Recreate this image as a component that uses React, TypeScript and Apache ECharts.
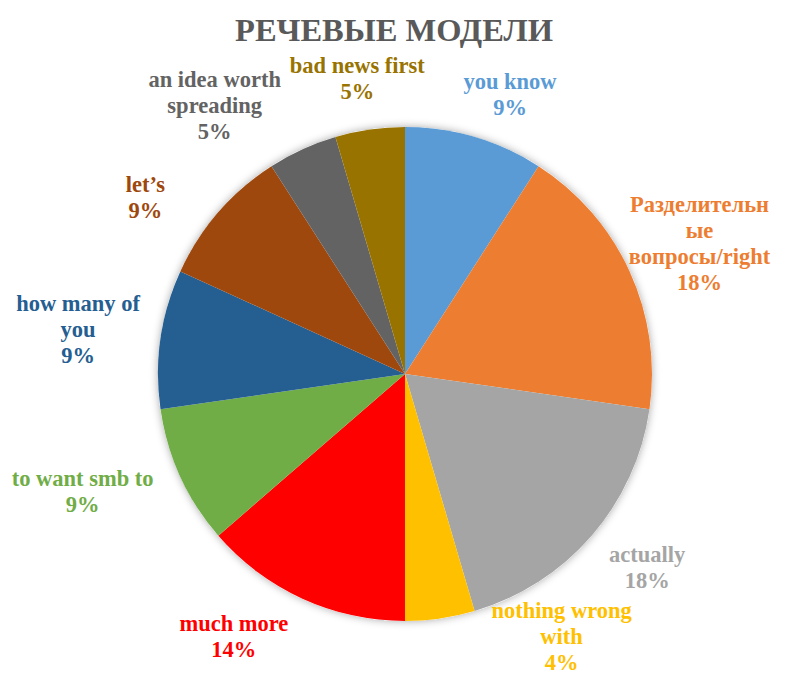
import React, { useEffect, useRef } from "react";
import * as echarts from "echarts";

const titleText = "РЕЧЕВЫЕ МОДЕЛИ";
const categories = [
  "you know",
  "Разделительн\nые\nвопросы/right",
  "actually",
  "nothing wrong\nwith",
  "much more",
  "to want smb to",
  "how many of\nyou",
  "let’s",
  "an idea worth\nspreading",
  "bad news first",
];
const counts = [2, 4, 4, 1, 3, 2, 2, 2, 1, 1];
const percentLabels = ["9%", "18%", "18%", "4%", "14%", "9%", "9%", "9%", "5%", "5%"];
const colors = [
  "#5B9BD5", "#ED7D31", "#A5A5A5", "#FFC000", "#FF0000",
  "#70AD47", "#255E91", "#9E480E", "#636363", "#997300",
];
// label placement (style): angular shift from slice middle (deg) and distance from centre (px)
const labelAngleShift = [4.2, 0.7, -2.3, -22.6, 8.6, 4.6, -0.4, -6.7, -10.8, -1];
const labelRadius = [299, 322, 310, 306, 313, 343, 330, 314, 329, 299];

const CX = 405;
const CY = 374;
const R = 247;

export default function App() {
  const ref = useRef<HTMLDivElement>(null);
  useEffect(() => {
    document.body.style.margin = "0";
    const chart = echarts.init(ref.current!, null, { renderer: "svg" });
    const total = counts.reduce((a, b) => a + b, 0);
    const mids: number[] = [];
    let acc = 0;
    counts.forEach((v) => {
      mids.push(((acc + v / 2) / total) * 360);
      acc += v;
    });
    const font = "'Liberation Serif', 'Times New Roman', serif";
    chart.setOption({
      animation: false,
      title: {
        text: titleText,
        left: "center",
        top: 8,
        textStyle: { fontFamily: font, fontWeight: "bold", fontSize: 32.5, color: "#595959" },
      },
      series: [
        {
          type: "pie",
          silent: true,
          center: [CX, CY],
          radius: [0, R],
          label: { show: false },
          labelLine: { show: false },
          itemStyle: { color: "#ffffff", shadowBlur: 8, shadowColor: "rgba(0,0,0,0.35)" },
          data: [{ value: 1, name: "bg" }],
          z: 1,
        },
        {
          type: "pie",
          center: [CX, CY],
          radius: [0, R],
          startAngle: 90,
          clockwise: true,
          avoidLabelOverlap: false,
          itemStyle: { borderWidth: 0 },
          labelLine: { show: false, length: 0, length2: 0 },
          label: {
            show: true,
            position: "outside",
            width: 240,
            overflow: "none",
            fontFamily: font,
            fontWeight: "bold",
            fontSize: 22.5,
            lineHeight: 26,
            align: "center",
            formatter: (p: any) => `${categories[p.dataIndex]}\n${percentLabels[p.dataIndex]}`,
          },
          labelLayout: (p: any) => {
            const i = p.dataIndex;
            const a = ((mids[i] + labelAngleShift[i]) * Math.PI) / 180;
            return {
              x: CX + labelRadius[i] * Math.sin(a),
              y: CY - labelRadius[i] * Math.cos(a),
              align: "center",
              verticalAlign: "middle",
            };
          },
          data: counts.map((v, i) => ({
            value: v,
            name: categories[i],
            itemStyle: { color: colors[i] },
            label: { color: colors[i] },
          })),
          z: 2,
        },
      ],
    });
    return () => chart.dispose();
  }, []);
  return <div ref={ref} style={{ width: 788, height: 677 }} />;
}
